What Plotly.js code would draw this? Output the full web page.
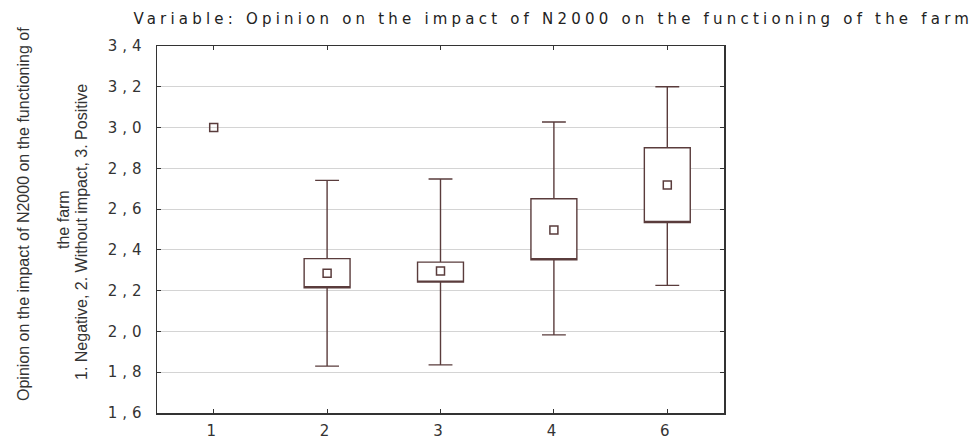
<!DOCTYPE html>
<html>
<head>
<meta charset="utf-8">
<script src="https://cdn.plot.ly/plotly-3.0.1.min.js"></script>
<style>
  html, body { margin: 0; padding: 0; background: #fff; }
  .gtitle { letter-spacing: 4.2px; }
  .xtick text, .ytick text { letter-spacing: 5px; }
</style>
</head>
<body>
<div id="chart" style="width:974px;height:439px;"></div>
<script>
// Categories and values
const categories = ['1', '2', '3', '4', '6'];
const means       = [3.000, 2.286, 2.296, 2.498, 2.718];
const boxLow      = [null, 2.214, 2.242, 2.352, 2.534];
const boxHigh     = [null, 2.357, 2.340, 2.651, 2.901];
const whiskerLow  = [null, 1.830, 1.836, 1.983, 2.226];
const whiskerHigh = [null, 2.741, 2.748, 3.027, 3.200];
const yTickVals   = [1.6, 1.8, 2.0, 2.2, 2.4, 2.6, 2.8, 3.0, 3.2, 3.4];
const yTickText   = ['1,6', '1,8', '2,0', '2,2', '2,4', '2,6', '2,8', '3,0', '3,2', '3,4'];

const titleText = 'Variable: Opinion on the impact of N2000 on the functioning of the farm';
const yTitleLine1 = 'Opinion on the impact of N2000 on the functioning of';
const yTitleLine2 = 'the farm';
const yTitleLine3 = '1. Negative, 2. Without impact, 3. Positive';

const markColor = '#5a3c3c';
const idx = categories.map((c, i) => i).filter(i => boxLow[i] !== null);

const boxTrace = {
  type: 'box',
  x: idx.map(i => categories[i]),
  q1: idx.map(i => boxLow[i]),
  median: idx.map(i => boxLow[i]),
  q3: idx.map(i => boxHigh[i]),
  lowerfence: idx.map(i => whiskerLow[i]),
  upperfence: idx.map(i => whiskerHigh[i]),
  width: 0.405,
  whiskerwidth: 0.52,
  fillcolor: '#ffffff',
  line: { color: markColor, width: 1.4 },
  boxpoints: false,
  hoverinfo: 'skip',
  showlegend: false
};

const meanTrace = {
  type: 'scatter',
  mode: 'markers',
  x: categories,
  y: means,
  marker: { symbol: 'square-open', size: 8, color: markColor, line: { width: 1.5, color: markColor } },
  hoverinfo: 'skip',
  showlegend: false
};

const fontH = 'DejaVu Sans, Liberation Sans, sans-serif';
const fontV = 'Liberation Sans Narrow, Liberation Sans, sans-serif';
const sizeV = 16;

const layout = {
  width: 974,
  height: 439,
  margin: { l: 157, r: 250, t: 46, b: 26, pad: 0 },
  paper_bgcolor: '#ffffff',
  plot_bgcolor: '#ffffff',
  title: {
    text: titleText,
    font: { family: fontH, size: 15, color: '#222' },
    xref: 'container', x: 0.568, xanchor: 'center',
    yref: 'container', y: 1 - 19 / 439, yanchor: 'middle'
  },
  xaxis: {
    type: 'category',
    categoryorder: 'array',
    categoryarray: categories,
    range: [-0.5, 4.5],
    showgrid: false,
    zeroline: false,
    showline: true,
    linecolor: '#333',
    linewidth: 1.5,
    mirror: 'ticks',
    ticks: 'inside',
    ticklen: 4,
    tickcolor: '#333',
    tickfont: { family: fontH, size: 15, color: '#333' },
    ticklabelstandoff: 3
  },
  yaxis: {
    range: [1.6, 3.4],
    tickvals: yTickVals,
    ticktext: yTickText,
    showgrid: true,
    gridcolor: '#d4d4d4',
    gridwidth: 1,
    zeroline: false,
    showline: true,
    linecolor: '#333',
    linewidth: 1.5,
    mirror: 'ticks',
    ticks: 'inside',
    ticklen: 4,
    tickcolor: '#333',
    tickfont: { family: fontH, size: 15, color: '#333' },
    ticklabelstandoff: 6
  },
  annotations: [
    { text: yTitleLine1, xref: 'paper', yref: 'paper', x: (23 - 157) / 567, y: (413 - 214) / 367,
      xanchor: 'center', yanchor: 'middle', textangle: -90, showarrow: false,
      font: { family: fontV, size: sizeV, color: '#333' } },
    { text: yTitleLine2, xref: 'paper', yref: 'paper', x: (63 - 157) / 567, y: (413 - 220) / 367,
      xanchor: 'center', yanchor: 'middle', textangle: -90, showarrow: false,
      font: { family: fontV, size: sizeV, color: '#333' } },
    { text: yTitleLine3, xref: 'paper', yref: 'paper', x: (82 - 157) / 567, y: (413 - 232) / 367,
      xanchor: 'center', yanchor: 'middle', textangle: -90, showarrow: false,
      font: { family: fontV, size: sizeV, color: '#333' } }
  ]
};

Plotly.newPlot('chart', [boxTrace, meanTrace], layout, { displayModeBar: false, staticPlot: true });
</script>
</body>
</html>
